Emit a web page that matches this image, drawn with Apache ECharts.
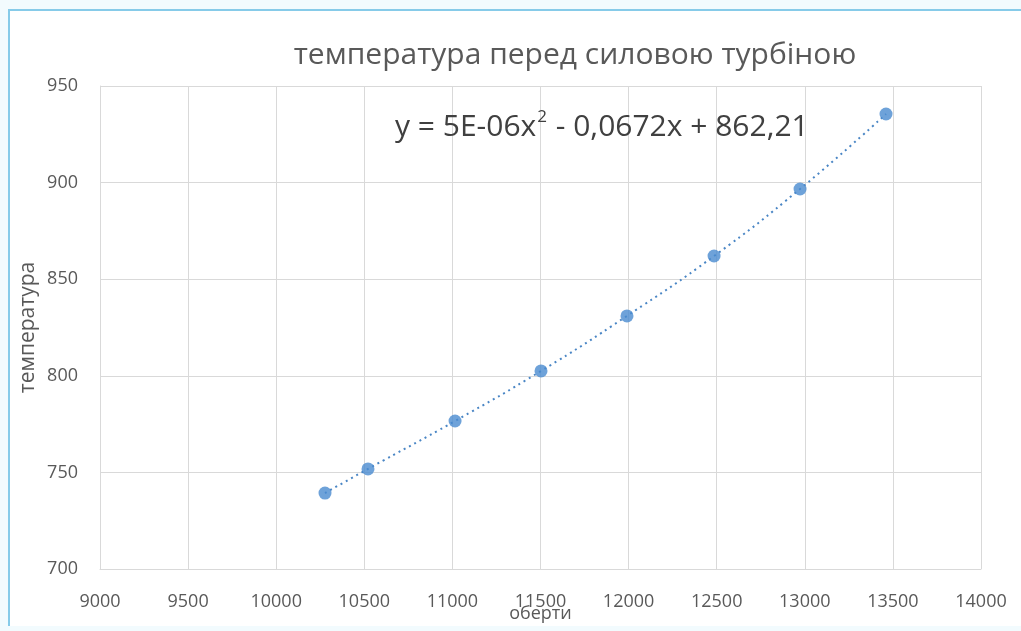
<!DOCTYPE html>
<html><head><meta charset="utf-8">
<script src="https://cdn.jsdelivr.net/npm/echarts@6/dist/echarts.min.js"></script>
<style>html,body{margin:0;padding:0;background:#f2fbfe;}#c{width:1021px;height:631px;}</style>
</head><body><div id="c"></div>
<script>
const revs = [10277, 10521, 11015, 11503, 11991, 12485, 12973, 13461];
const temps = [739.3, 751.8, 776.6, 802.5, 831.0, 862.0, 896.7, 935.5];
const titleText = 'температура перед силовою турбіною';
const equationText = '{n|y = 5E-06x}{sup|2}{n| - 0,0672x + 862,21}';
const xName = 'оберти';
const yName = 'температура';

const pts = revs.map((x, i) => [x, temps[i]]);
const chart = echarts.init(document.getElementById('c'));
const font = '"Open Sans", "Noto Sans", sans-serif';
chart.setOption({
  backgroundColor: '#f2fbfe',
  animation: false,
  graphic: [
    {type:'rect', z:-10, shape:{x:8, y:9, width:1013, height:617}, style:{fill:'#ffffff', stroke:null}},
    {type:'line', z:-5, shape:{x1:9, y1:9, x2:9, y2:626}, style:{stroke:'#86cbe9', lineWidth:2}},
    {type:'line', z:-5, shape:{x1:8, y1:10, x2:1021, y2:10}, style:{stroke:'#86cbe9', lineWidth:2}}
  ],
  title: [
    {text: titleText, left: 570, top: 35, textAlign: 'center',
     textStyle: {fontFamily: font, fontSize: 30, fontWeight: 'normal', color: '#595959'}},
    {text: equationText, left: 390, top: 97,
     textStyle: {fontFamily: font, fontSize: 30, fontWeight: 'normal', color: '#404040',
       rich: {
         n: {fontSize: 30, lineHeight: 40, color: '#404040', fontFamily: font, verticalAlign: 'bottom'},
         sup: {fontSize: 17, lineHeight: 40, verticalAlign: 'bottom', color: '#404040', fontFamily: font, padding:[0,1,16,1]}
       }}}
  ],
  grid: {left: 100, right: 40, top: 86, bottom: 62, containLabel: false, outerBoundsMode: 'none'},
  xAxis: {
    type: 'value', min: 9000, max: 14000, interval: 500,
    name: xName, nameLocation: 'middle', nameGap: 36, nameMoveOverlap: false,
    nameTextStyle: {fontFamily: font, fontSize: 18, color: '#595959'},
    axisLine: {show: true, lineStyle: {color: '#d9d9d9'}},
    axisTick: {show: false},
    axisLabel: {fontFamily: font, fontSize: 18, color: '#595959', margin: 24, formatter: v => String(v)},
    splitLine: {show: true, lineStyle: {color: '#d9d9d9'}}
  },
  yAxis: {
    type: 'value', min: 700, max: 950, interval: 50,
    name: yName, nameLocation: 'middle', nameGap: 61, nameRotate: 90, nameMoveOverlap: false,
    nameTextStyle: {fontFamily: font, fontSize: 21, color: '#595959'},
    axisLine: {show: true, lineStyle: {color: '#d9d9d9'}},
    axisTick: {show: false},
    axisLabel: {fontFamily: font, fontSize: 18, color: '#595959', margin: 22},
    splitLine: {show: true, lineStyle: {color: '#d9d9d9'}}
  },
  series: [
    {type: 'line', data: pts, smooth: true, symbol: 'none', z: 1,
     lineStyle: {color: '#4a86c5', width: 2, type: [2, 4]}},
    {type: 'scatter', data: pts, symbol: 'circle', symbolSize: 13, z: 2,
     itemStyle: {color: '#4a8bd0'}}
  ]
});
</script></body></html>
